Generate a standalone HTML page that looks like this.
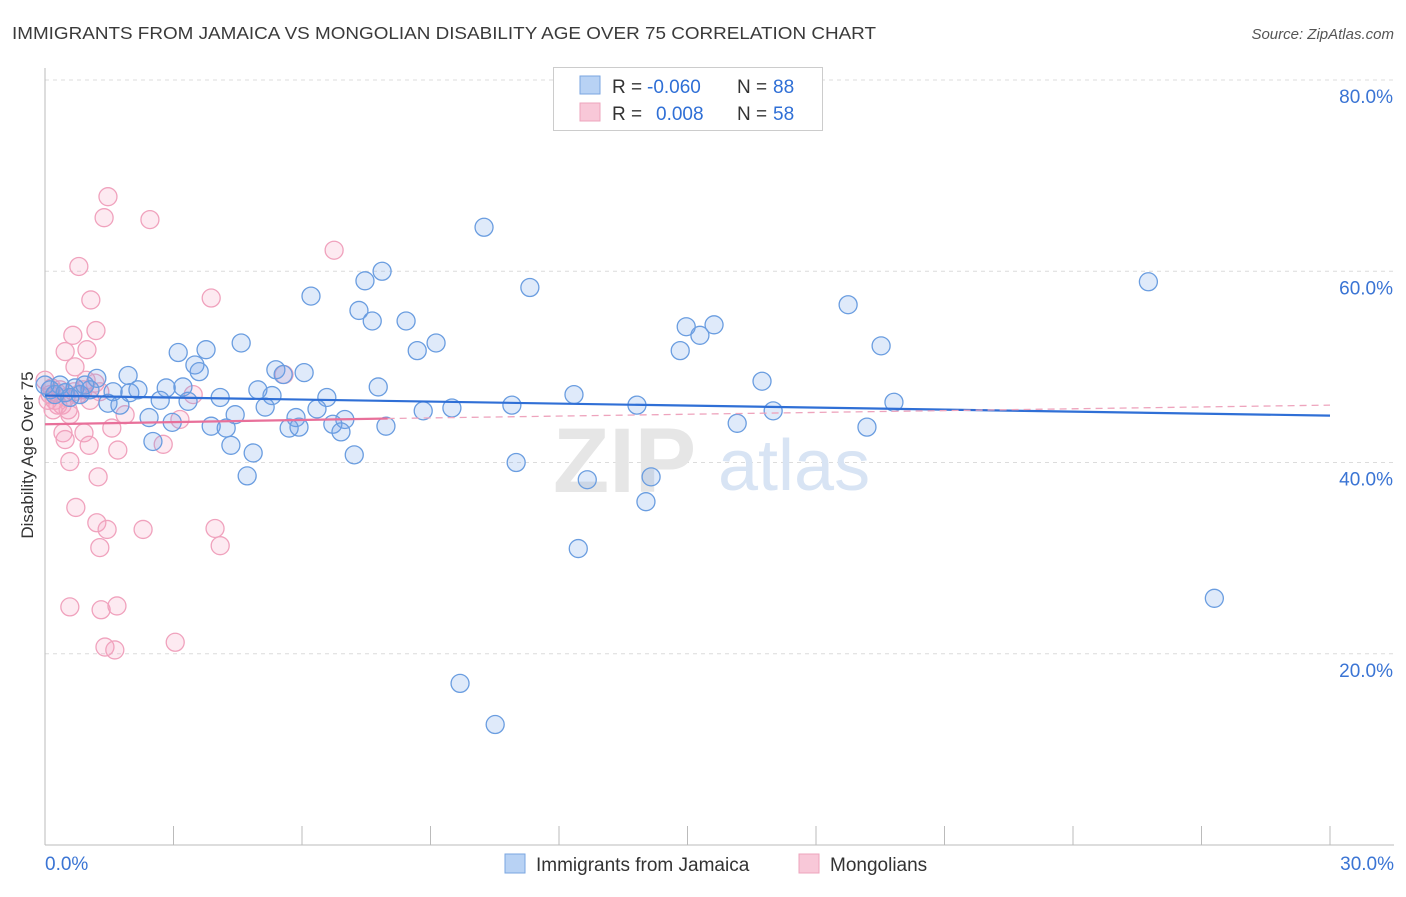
<!DOCTYPE html>
<html><head><meta charset="utf-8"><style>
body{margin:0;background:#fff;font-family:"Liberation Sans",sans-serif;}
svg text{font-family:"Liberation Sans",sans-serif;}
</style></head><body>
<svg id="c" width="1406" height="892" xmlns="http://www.w3.org/2000/svg">
<text x="12" y="39" font-size="17.5" fill="#3a3a3a" textLength="864" lengthAdjust="spacingAndGlyphs">IMMIGRANTS FROM JAMAICA VS MONGOLIAN DISABILITY AGE OVER 75 CORRELATION CHART</text>
<text x="1394" y="39" font-size="15" fill="#555" font-style="italic" text-anchor="end">Source: ZipAtlas.com</text>
<g id="grid"></g>
<text x="553" y="492" font-size="92" font-weight="bold" fill="#e6e6e6" font-family="Liberation Serif">ZIP</text>
<text x="718" y="490" font-size="72" fill="#d8e4f4">atlas</text>
<g id="marks"></g>
<text transform="translate(33,455) rotate(-90)" font-size="17" fill="#333" text-anchor="middle">Disability Age Over 75</text>
<g>
<rect x="553.5" y="67.5" width="269" height="63" fill="#fff" stroke="#ccc"/>
<rect x="580" y="76" width="20" height="18" fill="#b8d2f4" stroke="#7aa6e0"/>
<rect x="580" y="103" width="20" height="18" fill="#f8c8d8" stroke="#eea4bd"/>
<text x="612" y="93" font-size="19" fill="#333">R =</text>
<text x="647" y="93" font-size="19" fill="#2f6fd6">-0.060</text>
<text x="737" y="93" font-size="19" fill="#333">N =</text>
<text x="773" y="93" font-size="19" fill="#2f6fd6">88</text>
<text x="612" y="120" font-size="19" fill="#333">R =</text>
<text x="656" y="120" font-size="19" fill="#2f6fd6">0.008</text>
<text x="737" y="120" font-size="19" fill="#333">N =</text>
<text x="773" y="120" font-size="19" fill="#2f6fd6">58</text>
</g>
<g>
<rect x="505" y="854" width="20" height="19" fill="#b8d2f4" stroke="#7aa6e0"/>
<text x="536" y="871" font-size="19" fill="#333">Immigrants from Jamaica</text>
<rect x="799" y="854" width="20" height="19" fill="#f8c8d8" stroke="#eea4bd"/>
<text x="830" y="871" font-size="19" fill="#333">Mongolians</text>
</g>
</svg>
<script>
const xTickLabels=["0.0%","30.0%"];
const yTicks=[20,40,60,80];
const yTickLabels=["20.0%","40.0%","60.0%","80.0%"];
const blueX=[10.25,11.32,7.87,7.47,6.21,7.33,7.64,8.43,9.13,8.69,4.58,3.76,3.11,3.50,3.60,5.39,6.05,5.56,1.94,1.21,0.35,0.70,1.05,1.59,1.98,2.17,2.83,3.22,4.09,4.97,5.30,6.58,7.78,2.69,1.47,1.75,3.34,5.14,6.35,4.44,5.86,7.00,2.43,2.97,3.88,4.23,5.70,5.93,6.72,6.91,7.96,2.52,4.34,4.86,7.22,4.72,8.83,9.50,10.90,12.35,13.82,11.00,12.66,14.15,14.03,12.45,9.69,10.51,14.97,15.62,15.29,14.83,16.74,17.00,16.16,18.75,19.52,19.82,19.19,25.76,27.30,0.12,0.23,0.47,0.0,0.82,0.58,0.93];
const blueY=[64.6,58.3,60.0,59.0,57.4,55.9,54.8,54.8,52.5,51.7,52.5,51.8,51.5,50.2,49.5,49.7,49.4,49.2,49.1,48.8,48.1,47.8,47.6,47.4,47.3,47.6,47.8,47.9,46.8,47.6,47.0,46.8,47.9,46.5,46.2,46.0,46.4,45.8,45.6,45.0,44.7,44.5,44.7,44.2,43.8,43.6,43.6,43.7,44.0,43.2,43.8,42.2,41.8,41.0,40.8,38.6,45.4,45.7,46.0,47.1,46.0,40.0,38.2,38.5,35.9,31.0,16.9,12.6,54.2,54.4,53.3,51.7,48.5,45.4,44.1,56.5,52.2,46.3,43.7,58.9,25.8,47.6,47.1,47.3,48.1,47.1,46.8,48.1];
const pinkX=[1.47,1.38,2.45,6.75,0.79,1.07,3.88,1.19,0.65,0.98,0.47,0.70,5.58,1.17,0.96,0.35,0.12,0.23,0.40,0.54,0.77,1.05,1.87,0.58,1.56,0.42,0.91,0.47,1.03,1.70,2.76,0.58,1.24,0.72,1.21,1.45,2.29,3.97,1.28,4.09,0.58,1.31,1.68,3.04,1.40,1.63,3.15,3.46,0.0,0.16,0.30,0.07,0.89,0.49,0.68,0.28,1.28,0.19];
const pinkY=[67.8,65.6,65.4,62.2,60.5,57.0,57.2,53.8,53.3,51.8,51.6,50.0,49.2,48.3,48.6,47.6,47.1,46.5,46.0,45.5,47.1,46.5,45.0,45.0,43.6,43.1,43.1,42.4,41.8,41.3,41.9,40.1,38.5,35.3,33.7,33.0,33.0,33.1,31.1,31.3,24.9,24.6,25.0,21.2,20.7,20.4,44.5,47.1,48.6,47.8,46.0,46.5,47.6,46.8,47.4,47.3,47.4,45.5];
const blueTrend=[47.0,44.9];
const pinkTrend=[44.0,44.6,46.0];
const pinkSolidEnd=8;
const X=v=>45+v/30*1285;
const Y=v=>845-v*9.5625;
const NS="http://www.w3.org/2000/svg";
const grid=document.getElementById('grid'),marks=document.getElementById('marks');
function mk(tag,attrs,parent){const e=document.createElementNS(NS,tag);for(const k in attrs)e.setAttribute(k,attrs[k]);parent.appendChild(e);return e;}
yTicks.forEach((t,i)=>{
 const l=mk('line',{x1:45,x2:1394,y1:Y(t),y2:Y(t),stroke:'#dcdcdc','stroke-dasharray':'4,4'},grid);
 
 
 const tx=mk('text',{x:1393,y:Y(t)+23,'font-size':19,fill:'#3a74d4','text-anchor':'end'},grid);
 tx.textContent=yTickLabels[i];
 
 
});
const ax=mk('line',{x1:45,x2:45,y1:68,y2:845,stroke:'#bbb'},grid);


const bx=mk('line',{x1:45,x2:1394,y1:845,y2:845,stroke:'#bbb'},grid);


for(let i=0;i<=10;i++){
 const t=mk('line',{x1:X(i*3),x2:X(i*3),y1:826,y2:845,stroke:'#bbb'},grid);
 
 
}
[[0,'start',45],[30,'end',1394]].forEach((d,i)=>{
 const t=mk('text',{x:d[2],y:870,'font-size':19,fill:'#3a74d4','text-anchor':d[1]},grid);
 t.textContent=xTickLabels[i];
 
 
});
function pts(xs,ys,fill,stroke,name){xs.forEach((x,i)=>{
 const c=mk('circle',{cx:X(x),cy:Y(ys[i]),r:9,fill:fill,stroke:stroke,'stroke-width':1.3},marks);
 
 
});}
pts(pinkX,pinkY,'rgba(244,160,190,0.22)','#f0a2bd','mongolians-point');
pts(blueX,blueY,'rgba(110,160,230,0.22)','#6a9de0','jamaica-point');
const bt=mk('line',{x1:X(0),y1:Y(blueTrend[0]),x2:X(30),y2:Y(blueTrend[1]),stroke:'#2f6fd6','stroke-width':2.2},marks);


const pd=mk('line',{x1:X(pinkSolidEnd),y1:Y(pinkTrend[1]),x2:X(30),y2:Y(pinkTrend[2]),stroke:'#eea4bd','stroke-width':1.3,'stroke-dasharray':'7,5'},marks);


const pt=mk('line',{x1:X(0),y1:Y(pinkTrend[0]),x2:X(pinkSolidEnd),y2:Y(pinkTrend[1]),stroke:'#e8709a','stroke-width':2.2},marks);


</script>
</body></html>
